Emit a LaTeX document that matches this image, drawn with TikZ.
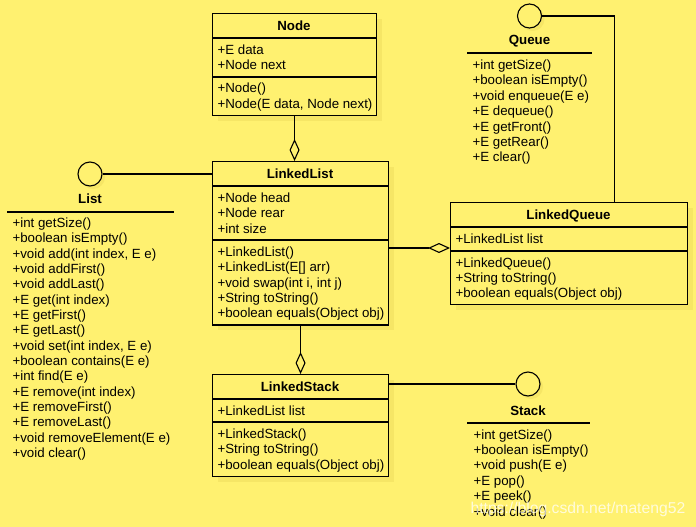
\documentclass[tikz,border=0pt]{standalone}
\usepackage{fontspec}
\setmainfont{Liberation Sans}
\usetikzlibrary{arrows.meta}
\definecolor{bg}{RGB}{255,241,112}
\definecolor{shd}{RGB}{246,230,102}
\newcommand\ms{\rule{0pt}{10.8pt}}
\begin{document}
\begin{tikzpicture}[x=1pt,y=-1pt, line width=1.1pt,
  cls/.style={draw, fill=bg, inner sep=0, anchor=north west},
  ttl/.style={font=\fontsize{13.3}{15.4}\selectfont\bfseries, inner sep=0, anchor=base},
  txt/.style={font=\fontsize{13.3}{15.4}\selectfont, inner sep=0, anchor=north west, align=left},
  txtl/.style={font=\fontsize{13.3}{15.33}\selectfont, inner sep=0, anchor=north west, align=left},
  iface/.style={circle, draw, fill=bg, minimum size=24pt, inner sep=0},
  agg/.style={-{Diamond[open,length=22pt,width=10pt]}},
  shadow/.style={fill=shd, draw=none}]
\useasboundingbox (0,0) rectangle (696,527);
\fill[bg] (0,0) rectangle (696,527);

% shadows
\fill[shadow] (218,19) rectangle (382,121);
\fill[shadow] (218,167) rectangle (394,330);
\fill[shadow] (456,208) rectangle (693,310);
\fill[shadow] (218,380) rectangle (394,482);
\fill[shadow] (93,177) circle (12);
\fill[shadow] (532.5,19) circle (12);
\fill[shadow] (531,387) circle (12);

% Node
\node[cls, minimum width=164pt, minimum height=102pt] (node) at (212,13) {};
\draw (212,38) -- (376,38);
\draw (212,77) -- (376,77);
\node[ttl] (nodet) at (294,30.25) {Node};
\node[txt] (nodea) at (217,43.2) {\ms+E data\\+Node next};
\node[txt] (nodem) at (217,81.6) {\ms+Node()\\+Node(E data, Node next)};

% LinkedList
\node[cls, minimum width=176pt, minimum height=163.4pt] (ll) at (212,161) {};
\draw (212,186) -- (388,186);
\draw (212,240) -- (388,240);
\node[ttl] (llt) at (300,178.25) {LinkedList};
\node[txt] (lla) at (217,191.2) {\ms+Node head\\+Node rear\\+int size};
\node[txt] (llm) at (217,245) {\ms+LinkedList()\\+LinkedList(E[] arr)\\+void swap(int i, int j)\\+String toString()\\+boolean equals(Object obj)};

% LinkedQueue
\node[cls, minimum width=237pt, minimum height=102pt] (lq) at (450,202) {};
\draw (450,227) -- (687,227);
\draw (450,251) -- (687,251);
\node[ttl] (lqt) at (568.5,219.25) {LinkedQueue};
\node[txt] (lqa) at (455,232.2) {\ms+LinkedList list};
\node[txt] (lqm) at (455,255.7) {\ms+LinkedQueue()\\+String toString()\\+boolean equals(Object obj)};

% LinkedStack
\node[cls, minimum width=176pt, minimum height=102pt] (ls) at (212,374) {};
\draw (212,399) -- (388,399);
\draw (212,422) -- (388,422);
\node[ttl] (lst) at (300,391.25) {LinkedStack};
\node[txt] (lsa) at (217,404.2) {\ms+LinkedList list};
\node[txt] (lsm) at (217,427.2) {\ms+LinkedStack()\\+String toString()\\+boolean equals(Object obj)};

% List interface
\node[iface] (list) at (90,174) {};
\node[ttl] (listt) at (90,203) {List};
\draw (7,212) -- (174,212);
\node[txtl] (listm) at (12,216.2) {\ms+int getSize()\\+boolean isEmpty()\\+void add(int index, E e)\\+void addFirst()\\+void addLast()\\+E get(int index)\\+E getFirst()\\+E getLast()\\+void set(int index, E e)\\+boolean contains(E e)\\+int find(E e)\\+E remove(int index)\\+E removeFirst()\\+E removeLast()\\+void removeElement(E e)\\+void clear()};

% Queue interface
\node[iface] (queue) at (529.5,16) {};
\node[ttl] (queuet) at (529.5,45) {Queue};
\draw (467,53) -- (592,53);
\node[txt] (queuem) at (472,58.2) {\ms+int getSize()\\+boolean isEmpty()\\+void enqueue(E e)\\+E dequeue()\\+E getFront()\\+E getRear()\\+E clear()};

% Stack interface
\node[iface] (stack) at (528,384) {};
\node[ttl] (stackt) at (528,415) {Stack};
\draw (467,423) -- (590,423);
\node[txt] (stackm) at (473,427.7) {\ms+int getSize()\\+boolean isEmpty()\\+void push(E e)\\+E pop()\\+E peek()\\+void clear()};

% connectors
\coordinate (qj) at (450,248);
\draw[agg] (node.south) -- (node.south |- ll.north);
\draw[agg] (ll.south) -- (ls.north);
\draw[agg] (ll.east |- qj) -- (lq.west |- qj);
\draw (list.east) -- (ll.west |- list.east);
\draw (queue.east) -| ([xshift=45.5pt]lq.north);
\draw (stack.west) -- (stack.west -| ls.east);

% watermark
\node[font=\fontsize{15.7}{18}\selectfont, text=white, opacity=0.75, anchor=base west, inner sep=0] (wm) at (470,513) {https://blog.csdn.net/mateng52};
\end{tikzpicture}
\end{document}
